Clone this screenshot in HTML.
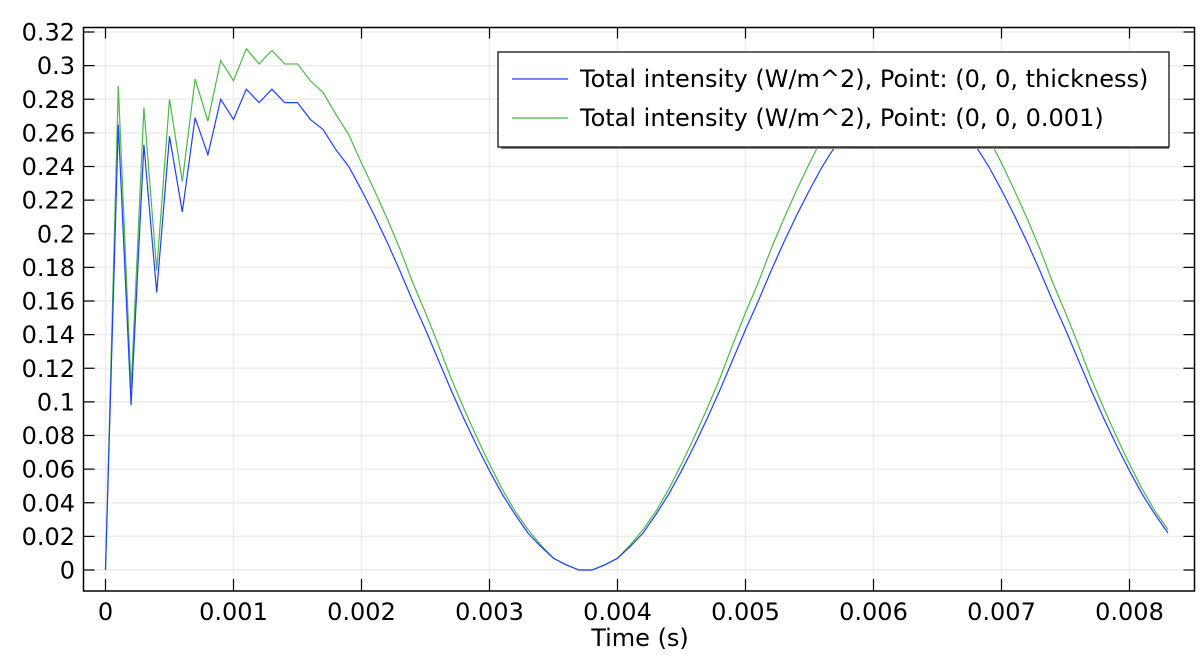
<!DOCTYPE html>
<html><head><meta charset="utf-8"><style>
html,body{margin:0;padding:0;background:#fff;}
svg{display:block;font-family:"DejaVu Sans","Liberation Sans",sans-serif;}
</style></head><body>
<svg id="chart" width="1202" height="656" viewBox="0 0 1202 656">
<g id="grid"></g>
<g id="series"></g>
<rect x="83.5" y="27.5" width="1111" height="563.5" fill="none" stroke="#000" stroke-width="1.5"/>
<g id="ticks"></g>
<text x="640" y="646" font-size="24" text-anchor="middle">Time (s)</text>
<g>
<rect x="501" y="55" width="668" height="94" fill="#888"/>
<rect x="498" y="52" width="671" height="95" fill="#fff" stroke="#000" stroke-width="1.2"/>
<g>
<line x1="512" y1="79" x2="568" y2="79" stroke="#2040ff" stroke-width="1.2"/>
<text x="580" y="87" font-size="24">Total intensity (W/m^2), Point: (0, 0, thickness)</text>
</g>
<g>
<line x1="512" y1="118" x2="568" y2="118" stroke="#4cb848" stroke-width="1.2"/>
<text x="580" y="126" font-size="24">Total intensity (W/m^2), Point: (0, 0, 0.001)</text>
</g>
</g>
</svg>
<script>
const dt = 0.0001;
const blueVals = [0,0.265,0.098,0.253,0.165,0.258,0.213,0.269,0.247,0.280,0.268,0.286,0.278,0.286,0.278,0.278,0.268,0.262,0.250,0.240,
0.226,0.211,0.195,0.178,0.160,0.143,0.125,0.107,0.090,0.074,0.059,0.045,0.033,0.022,0.014,0.007,0.003,0.000,0.000,0.003,0.007,0.014,0.022,0.033,0.045,0.059,0.074,0.090,0.107,0.125,0.143,0.160,0.178,0.195,0.211,0.226,0.240,0.252,0.263,0.271,0.278,0.282,0.285,0.285,0.282,0.278,0.271,0.263,0.252,0.240,0.226,0.211,0.195,0.178,0.160,0.143,0.125,0.107,0.090,0.074,0.059,0.045,0.033,0.022];
const greenVals = [0,0.288,0.108,0.275,0.178,0.280,0.231,0.292,0.267,0.303,0.291,0.310,0.301,0.309,0.301,0.301,0.291,0.284,0.271,0.259,
0.242,0.226,0.209,0.191,0.171,0.153,0.134,0.114,0.096,0.079,0.063,0.048,0.035,0.024,0.015,0.007,0.003,0.000,0.000,0.003,0.007,0.015,0.024,0.035,0.048,0.063,0.079,0.096,0.114,0.134,0.153,0.171,0.191,0.209,0.226,0.242,0.257,0.270,0.281,0.290,0.298,0.302,0.305,0.305,0.302,0.298,0.290,0.281,0.270,0.257,0.242,0.226,0.209,0.191,0.171,0.153,0.134,0.114,0.096,0.079,0.063,0.048,0.035,0.024];
const xTicks = [0,0.001,0.002,0.003,0.004,0.005,0.006,0.007,0.008];
const xTickLabels = ["0","0.001","0.002","0.003","0.004","0.005","0.006","0.007","0.008"];
const yTicks = [0,0.02,0.04,0.06,0.08,0.1,0.12,0.14,0.16,0.18,0.2,0.22,0.24,0.26,0.28,0.3,0.32];
const yTickLabels = ["0","0.02","0.04","0.06","0.08","0.1","0.12","0.14","0.16","0.18","0.2","0.22","0.24","0.26","0.28","0.3","0.32"];

const L=83.5,R=1194.5,T=27.5,B=591;
function xs(t){return 105.5 + t*128000;}
function ys(v){return 570 - v*(538/0.32);}
const NS="http://www.w3.org/2000/svg";
function mk(tag,attrs,parent){const e=document.createElementNS(NS,tag);for(const k in attrs)e.setAttribute(k,attrs[k]);parent.appendChild(e);return e;}
const grid=document.getElementById('grid'),ticks=document.getElementById('ticks'),series=document.getElementById('series');
xTicks.forEach((t,i)=>{
  const x=xs(t);
  const g=mk('line',{x1:x,y1:T,x2:x,y2:B,stroke:'#ececec','stroke-width':1.5},grid);
  
  
  const a=mk('line',{x1:x,y1:B,x2:x,y2:B-12,stroke:'#000','stroke-width':1.2},ticks);
  
  
  const b=mk('line',{x1:x,y1:T,x2:x,y2:T+11,stroke:'#000','stroke-width':1.2},ticks);
  
  
  const tx=mk('text',{x:x,y:620,'font-size':24,'text-anchor':'middle'},ticks);
  tx.textContent=xTickLabels[i];
  
  
});
yTicks.forEach((v,i)=>{
  const y=ys(v);
  const g=mk('line',{x1:L,y1:y,x2:R,y2:y,stroke:'#ececec','stroke-width':1.5},grid);
  
  
  const a=mk('line',{x1:L,y1:y,x2:L+11,y2:y,stroke:'#000','stroke-width':1.2},ticks);
  
  
  const b=mk('line',{x1:R,y1:y,x2:R-11,y2:y,stroke:'#000','stroke-width':1.2},ticks);
  
  
  const tx=mk('text',{x:75,y:y+8.5,'font-size':24,'text-anchor':'end'},ticks);
  tx.textContent=yTickLabels[i];
  
  
});
function path(vals,color,name){
  const d=vals.map((v,i)=>(i?'L':'M')+xs(i*dt).toFixed(2)+','+ys(v).toFixed(2)).join('');
  const p=mk('path',{d:d,fill:'none',stroke:color,'stroke-width':1.2},series);
  
  
}
path(greenVals,'#4cb848','series-point-0.001');
path(blueVals,'#2040ff','series-point-thickness');
</script>
</body></html>
